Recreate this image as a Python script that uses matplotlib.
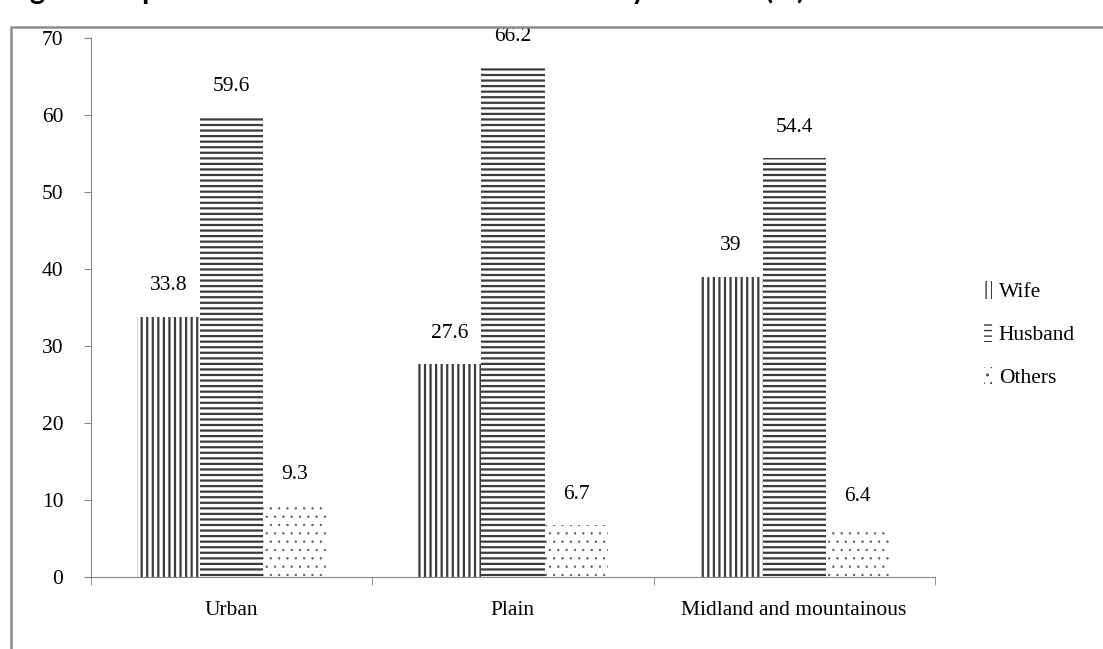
import matplotlib.pyplot as plt
import numpy as np
from matplotlib.patches import Rectangle

# data
areas = ['Urban', 'Plain', 'Midland and mountainous']
wife = [33.8, 27.6, 39]
husband = [59.6, 66.2, 54.4]
others = [9.3, 6.7, 6.4]

plt.rcParams['font.family'] = 'Liberation Serif'
fs = 15.5

fig = plt.figure(figsize=(11.03, 6.49), dpi=100)
ax = fig.add_axes([0.0825, 0.111, 0.765, 0.8305])

x = np.arange(len(areas))
w = 0.225
series = [(wife, '|||', 'Wife', 1.6, '#3c3c3c'),
          (husband, '---', 'Husband', 1.6, '#3c3c3c'),
          (others, '..', 'Others', 0.4, '#505050')]
for i, (vals, hatch, name, hlw, hcol) in enumerate(series):
    with plt.rc_context({'hatch.linewidth': hlw}):
        bars = ax.bar(x + (i - 1) * w, vals, w, color='white', edgecolor=hcol,
                      hatch=hatch, linewidth=0, label=name)
    for b, v in zip(bars, vals):
        ax.text(b.get_x() + b.get_width() / 2, v + 2.8, f'{v:g}',
                ha='center', va='bottom', fontsize=fs)

ax.set_xlim(-0.5, len(areas) - 0.5)
ax.set_ylim(0, 70)
ax.set_yticks(range(0, 71, 10))
ax.set_xticks(x)
ax.set_xticklabels(areas)
ax.set_xticks(np.arange(-0.5, len(areas)), minor=True)

for s in ['top', 'right']:
    ax.spines[s].set_visible(False)
for s in ['left', 'bottom']:
    ax.spines[s].set_color('#868686')
ax.tick_params(axis='y', colors='#868686', labelcolor='black', labelsize=fs, length=5, pad=15)
ax.tick_params(axis='x', which='major', length=0, labelsize=fs, pad=17)
ax.tick_params(axis='x', which='minor', length=6, colors='#868686')

leg = ax.legend(loc='center left', bbox_to_anchor=(1.035, 0.45), frameon=False,
                fontsize=fs, handlelength=0.4, handleheight=0.9, handletextpad=0.3,
                labelspacing=1.0)

# outer frame and cropped caption
fig.patches.append(Rectangle((11 / 1103, -0.05), 1.05, 1 - 27 / 649 + 0.05,
                             transform=fig.transFigure, fill=False,
                             edgecolor='#8c8c8c', linewidth=1.8))
fig.text(0.005, 1 + 1 / 649, 'Figure 3. Spouse who are main income earners by location (%)',
         fontsize=21, fontweight='bold', family='Lato', va='baseline', ha='left')

fig.savefig('out.png', dpi=100)
